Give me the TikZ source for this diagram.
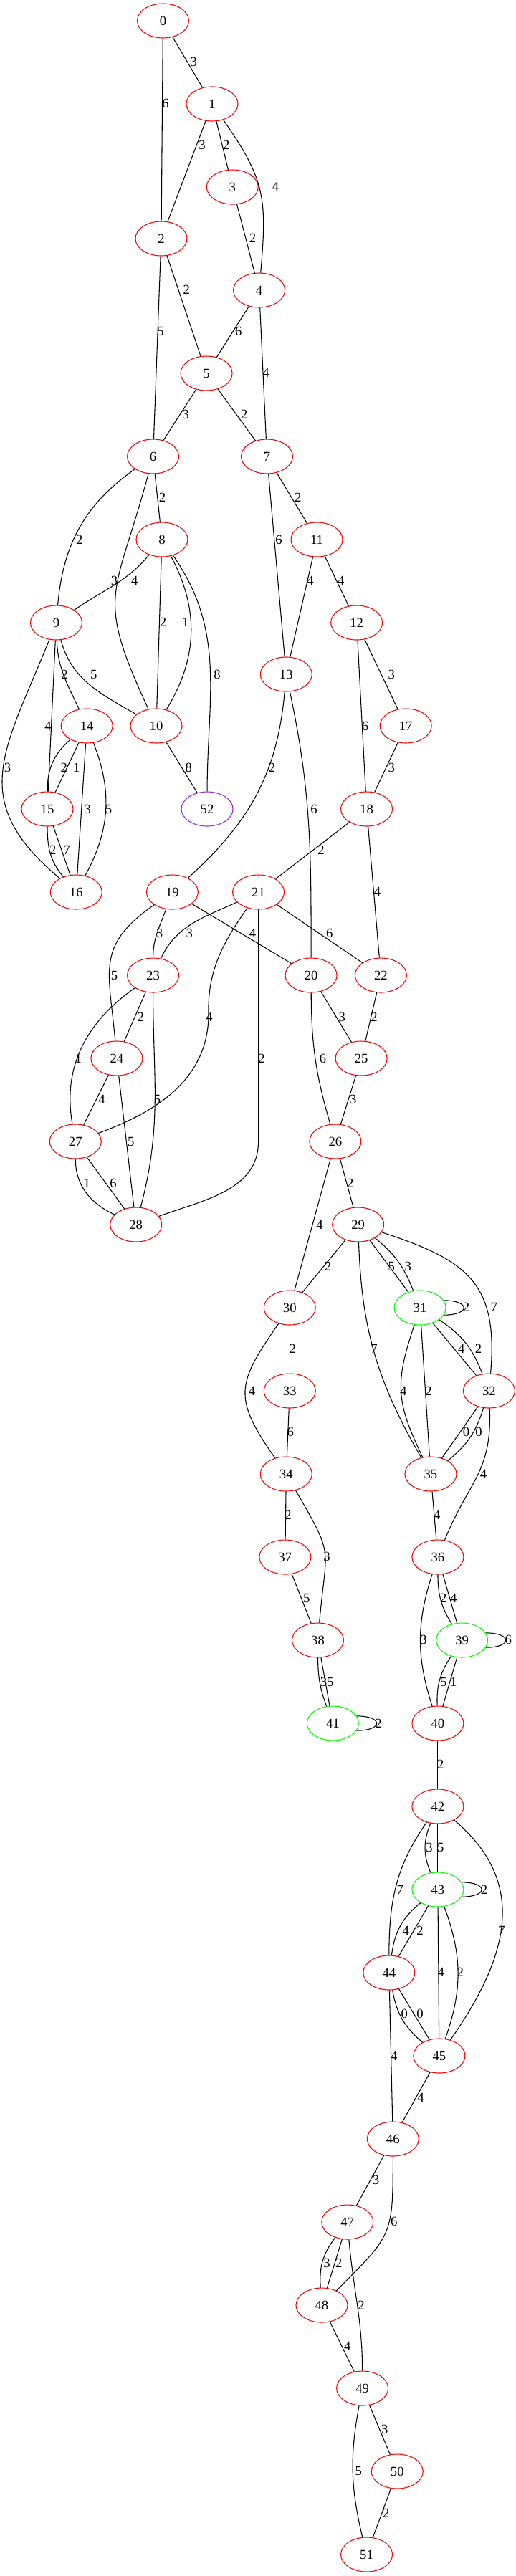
\documentclass[tikz,border=0pt]{standalone}
\usepackage{fontspec}
\setmainfont{Liberation Serif}
\usetikzlibrary{shapes.geometric}
\definecolor{vred}{RGB}{255,0,0}
\definecolor{vgreen}{RGB}{0,255,0}
\definecolor{vpurple}{RGB}{160,32,240}

\begin{document}
\begin{tikzpicture}[x=0.745pt,y=-0.75pt,line width=0.8pt,
  vtx/.style={ellipse,draw=vred,minimum width=54pt,minimum height=36pt,inner sep=0pt,font=\fontsize{14pt}{16pt}\selectfont},
  vtxg/.style={vtx,draw=vgreen},
  vtxp/.style={vtx,draw=vpurple},
  wt/.style={inner sep=0pt,font=\fontsize{14pt}{16pt}\selectfont}]
\useasboundingbox (0,0) rectangle (724,3595);

% Nodes
\node[vtx] (n0) at (229,29) {0};
\node[vtx] (n1) at (298,145) {1};
\node[vtx] (n2) at (226.5,333) {2};
\node[vtx] (n3) at (326.5,261) {3};
\node[vtx] (n4) at (364,405) {4};
\node[vtx] (n5) at (290,521) {5};
\node[vtx] (n6) at (215,637) {6};
\node[vtx] (n7) at (375,637) {7};
\node[vtx] (n8) at (227.5,753) {8};
\node[vtx] (n9) at (79,869) {9};
\node[vtx] (n10) at (219.5,1013) {10};
\node[vtx] (n11) at (445,753) {11};
\node[vtx] (n12) at (501,869) {12};
\node[vtx] (n13) at (402,941) {13};
\node[vtx] (n14) at (122,1013) {14};
\node[vtx] (n15) at (66.5,1129) {15};
\node[vtx] (n16) at (107,1245) {16};
\node[vtx] (n17) at (570,1013) {17};
\node[vtx] (n18) at (515,1129) {18};
\node[vtx] (n19) at (242,1245) {19};
\node[vtx] (n20) at (437,1361) {20};
\node[vtx] (n21) at (363,1245) {21};
\node[vtx] (n22) at (535,1361) {22};
\node[vtx] (n23) at (215,1361) {23};
\node[vtx] (n24) at (164,1477) {24};
\node[vtx] (n25) at (507.5,1477) {25};
\node[vtx] (n26) at (471,1593) {26};
\node[vtx] (n27) at (106,1593) {27};
\node[vtx] (n28) at (191,1709) {28};
\node[vtx] (n29) at (503,1709) {29};
\node[vtx] (n30) at (407,1825) {30};
\node[vtxg] (n31) at (590,1825) {31};
\node[vtx] (n32) at (687,1941) {32};
\node[vtx] (n33) at (407,1941) {33};
\node[vtx] (n34) at (402,2057) {34};
\node[vtx] (n35) at (605,2057) {35};
\node[vtx] (n36) at (615,2173) {36};
\node[vtx] (n37) at (400.5,2173) {37};
\node[vtx] (n38) at (446.5,2289) {38};
\node[vtxg] (n39) at (649,2289) {39};
\node[vtx] (n40) at (615,2405) {40};
\node[vtxg] (n41) at (467.5,2405) {41};
\node[vtx] (n42) at (615,2521) {42};
\node[vtxg] (n43) at (615,2637) {43};
\node[vtx] (n44) at (546.5,2753) {44};
\node[vtx] (n45) at (617,2869) {45};
\node[vtx] (n46) at (552,2985) {46};
\node[vtx] (n47) at (488,3101) {47};
\node[vtx] (n48) at (452,3217) {48};
\node[vtx] (n49) at (509,3333) {49};
\node[vtx] (n50) at (558,3449) {50};
\node[vtx] (n51) at (515,3565) {51};
\node[vtxp] (n52) at (291,1129) {52};
\coordinate (k21) at (293,1420);

% Edges 0-8
\draw (n0) -- (n1) node[wt] at (272,86) {3};
\draw (n0) -- (n2) node[wt] at (232.5,144) {6};
\draw (n1) -- (n2) node[wt] at (284,202) {3};
\draw (n1) -- (n3) node[wt] at (318,202) {2};
\draw (n1) to[out=-55,in=85,looseness=1.2] (n4) node[wt] at (387,260) {4};
\draw (n3) -- (n4) node[wt] at (355,332) {2};
\draw (n2) -- (n5) node[wt] at (262,404) {2};
\draw (n2) -- (n6) node[wt] at (225.5,462) {5};
\draw (n4) -- (n5) node[wt] at (335,462) {6};
\draw (n4) -- (n7) node[wt] at (373.5,520) {4};
\draw (n5) -- (n6) node[wt] at (261,578) {3};
\draw (n5) -- (n7) node[wt] at (343,578) {2};
\draw (n6) -- (n8) node[wt] at (228,694) {2};
\draw (n6) to[out=-145,in=85] (n9) node[wt] at (111.6,753) {2};
\draw (n6) to[out=-105,in=115,looseness=1.4] (n10) node[wt] at (160.5,810) {3};
\draw (n8) to[out=-130,in=35] (n9) node[wt] at (189,810) {4};
\draw (n8) -- (n10) node[wt] at (229,868) {2};
\draw (n8) to[bend left=30] (n10) node[wt] at (260.5,868) {1};
\draw (n8) to[out=-55,in=90] (n52) node[wt] at (305,941) {8};
\draw (n7) -- (n13) node[wt] at (391.6,753) {6};
\draw (n7) -- (n11) node[wt] at (418.6,694) {2};
\draw (n11) -- (n13) node[wt] at (436,810) {4};
\draw (n11) -- (n12) node[wt] at (479,810) {4};

% Edges 9-28
\draw (n9) to[out=-88,in=115] (n14) node[wt] at (90.7,941) {2};
\draw (n9) to[out=-75,in=150] (n10) node[wt] at (131.6,941) {5};
\draw (n9) -- (n15) node[wt] at (67.4,1013) {4};
\draw (n9) to[out=-112,in=140,looseness=1.3] (n16) node[wt] at (10.7,1071) {3};
\draw (n14) to[bend right=25] (n15) node[wt] at (89.8,1071) {2};
\draw (n14) -- (n15) node[wt] at (107.4,1071) {1};
\draw (n14) -- (n16) node[wt] at (123,1129) {3};
\draw (n14) to[bend left=25] (n16) node[wt] at (152.6,1129) {5};
\draw (n15) to[out=-90,in=130] (n16) node[wt] at (74.4,1186) {2};
\draw (n15) -- (n16) node[wt] at (94,1186) {7};
\draw (n10) -- (n52) node[wt] at (265,1071) {8};
\draw (n13) to[out=-95,in=42] (n19) node[wt] at (382,1071) {2};
\draw (n13) to[out=-78,in=90] (n20) node[wt] at (441,1129) {6};
\draw (n12) -- (n18) node[wt] at (513,1013) {6};
\draw (n12) -- (n17) node[wt] at (550,941) {3};
\draw (n17) -- (n18) node[wt] at (550,1071) {3};
\draw (n18) -- (n21) node[wt] at (451,1186) {2};
\draw (n18) -- (n22) node[wt] at (530,1244) {4};
\draw (n19) to[out=-110,in=90] (n23) node[wt] at (224,1302) {3};
\draw (n19) to[out=-145,in=95,looseness=1.3] (n24) node[wt] at (160.5,1361) {5};
\draw (n19) -- (n20) node[wt] at (355,1302) {4};
\draw (n21) to[out=-155,in=65] (n23) node[wt] at (266,1302) {3};
\draw (n21) to[out=-125,in=92] (k21) to[out=-92,in=20] (n27) node[wt] at (294,1419) {4};
\draw (n21) -- (n21 |- n27) to[out=-90,in=20] (n28) node[wt] at (367.4,1477) {2};
\draw (n21) -- (n22) node[wt] at (463,1302) {6};
\draw (n23) -- (n24) node[wt] at (197.7,1419) {2};
\draw (n23) to[out=-145,in=100] (n27) node[wt] at (110,1477) {1};
\draw (n23) to[out=-90,in=75] (n28) node[wt] at (221,1534) {5};
\draw (n20) -- (n25) node[wt] at (480.5,1419) {3};
\draw (n22) -- (n25) node[wt] at (525.6,1419) {2};
\draw (n20) to[bend right=8] (n26) node[wt] at (453.5,1477) {6};
\draw (n25) -- (n26) node[wt] at (496,1534) {3};
\draw (n24) -- (n27) node[wt] at (143,1534) {4};
\draw (n24) -- (n28) node[wt] at (184,1593) {5};
\draw (n27) to[out=-90,in=155] (n28) node[wt] at (122,1651) {1};
\draw (n27) -- (n28) node[wt] at (159,1651) {6};

% Edges 26-41
\draw (n26) -- (n29) node[wt] at (492,1651) {2};
\draw (n26) -- (n30) node[wt] at (449,1709) {4};
\draw (n29) -- (n30) node[wt] at (460.5,1767) {2};
\draw (n29) to[out=-88,in=120] (n35) node[wt] at (525.6,1882) {7};
\draw (n29) -- (n31) node[wt] at (550,1767) {5};
\draw (n29) to[bend left=15] (n31) node[wt] at (573,1767) {3};
\draw (n29) to[out=-18,in=85,looseness=1.3] (n32) node[wt] at (694,1824) {7};
\draw (n31.17) to[out=0,in=0,looseness=4.7] (n31.-17) node[wt] at (655,1824) {2};
\draw (n30) -- (n33) node[wt] at (411,1882) {2};
\draw (n30) to[out=-125,in=125,looseness=1.4] (n34) node[wt] at (354,1941) {4};
\draw (n33) -- (n34) node[wt] at (408,1998) {6};
\draw (n31) to[bend right=22,looseness=1.2] (n35) node[wt] at (566.5,1941) {4};
\draw (n31) -- (n35) node[wt] at (602,1941) {2};
\draw (n31) -- (n32) node[wt] at (648,1882) {4};
\draw (n31) to[bend left=18] (n32) node[wt] at (672,1882) {2};
\draw (n32) -- (n35) node[wt] at (655,1998) {0};
\draw (n32) to[bend left=17] (n35) node[wt] at (672.6,1998) {0};
\draw (n32) to[out=-88,in=68,looseness=1.2] (n36) node[wt] at (679,2057) {4};
\draw (n35) -- (n36) node[wt] at (614,2114) {4};
\draw (n34) -- (n37) node[wt] at (404.7,2114) {2};
\draw (n34) to[out=-60,in=85,looseness=1.5] (n38) node[wt] at (459,2172) {3};
\draw (n37) -- (n38) node[wt] at (430.7,2230) {5};
\draw (n36) to[bend right=16] (n39) node[wt] at (623,2230) {2};
\draw (n36) -- (n39) node[wt] at (637,2230) {4};
\draw (n36) to[bend right=18] (n40) node[wt] at (595,2288) {3};
\draw (n39.17) to[out=0,in=0,looseness=4.7] (n39.-17) node[wt] at (714,2288) {6};
\draw (n38) to[bend right=10] (n41) node[wt] at (454.5,2347) {3};
\draw (n38) -- (n41) node[wt] at (464,2347) {5};
\draw (n39) to[bend right=18] (n40) node[wt] at (623,2347) {5};
\draw (n39) -- (n40) node[wt] at (637,2347) {1};
\draw (n41.17) to[out=0,in=0,looseness=4.7] (n41.-17) node[wt] at (531.6,2405) {2};

% Edges 40-52
\draw (n40) -- (n42) node[wt] at (619,2462) {2};
\draw (n42) to[bend right=23] (n43) node[wt] at (603,2578) {3};
\draw (n42) -- (n43) node[wt] at (619,2578) {5};
\draw (n42) to[out=-125,in=90] (n44) node[wt] at (562,2637) {7};
\draw (n42) to[out=-40,in=55,looseness=1.15] (n45) node[wt] at (704.7,2694) {7};
\draw (n43.17) to[out=0,in=0,looseness=4.7] (n43.-17) node[wt] at (680,2637) {2};
\draw (n43) to[bend right=22] (n44) node[wt] at (570,2694) {4};
\draw (n43) -- (n44) node[wt] at (590,2694) {2};
\draw (n43) -- (n45) node[wt] at (619.5,2752) {4};
\draw (n43) to[bend left=20] (n45) node[wt] at (646.5,2752) {2};
\draw (n44) to[bend right=20] (n45) node[wt] at (568,2810) {0};
\draw (n44) -- (n45) node[wt] at (590,2810) {0};
\draw (n44) -- (n46) node[wt] at (553.5,2869) {4};
\draw (n45) -- (n46) node[wt] at (591,2927) {4};
\draw (n46) -- (n47) node[wt] at (528,3042) {3};
\draw (n46) to[out=-90,in=45,looseness=1.4] (n48) node[wt] at (553.5,3100) {6};
\draw (n47) to[bend right=21] (n48) node[wt] at (459,3158) {3};
\draw (n47) -- (n48) node[wt] at (476,3158) {2};
\draw (n47) to[out=-85,in=90] (n49) node[wt] at (507.4,3217) {2};
\draw (n48) -- (n49) node[wt] at (488,3274) {4};
\draw (n49) -- (n50) node[wt] at (540.5,3390) {3};
\draw (n49) to[bend right=12] (n51) node[wt] at (503.7,3448) {5};
\draw (n50) -- (n51) node[wt] at (542.3,3507) {2};

\end{tikzpicture}
\end{document}
